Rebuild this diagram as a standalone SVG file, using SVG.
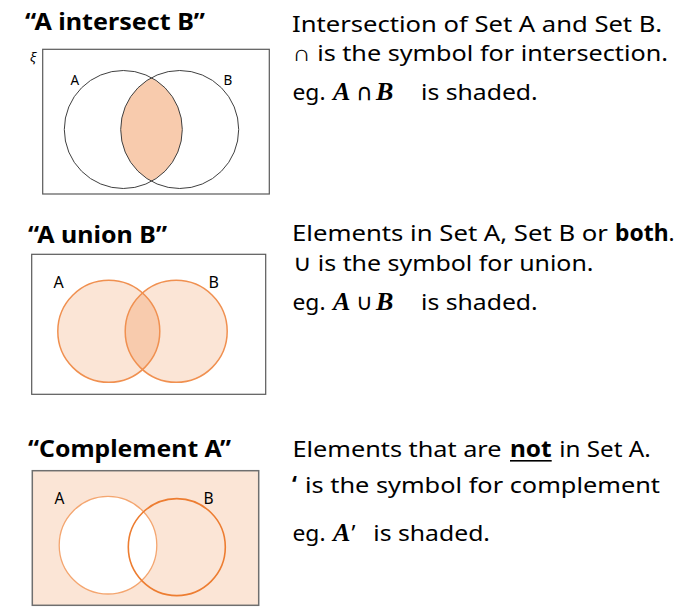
<svg xmlns="http://www.w3.org/2000/svg" width="697" height="613" viewBox="0 0 697 613">
<style>
  .title{font-family:"Noto Sans","Liberation Sans",sans-serif;font-weight:bold;font-size:23.5px;fill:#000}
  .body{font-family:"Noto Sans","Liberation Sans",sans-serif;font-size:22.5px;fill:#000}
  .bold{font-weight:bold}
  .math{font-family:"Liberation Serif","DejaVu Serif",serif;font-style:italic;font-weight:bold;font-size:26px;fill:#000}
  .sym{font-family:"DejaVu Sans","Noto Sans",sans-serif;font-size:23px;fill:#000}
  .lbl{font-family:"Noto Sans","Liberation Sans",sans-serif;fill:#000}
  .frame{fill:#fff;stroke:#595959;stroke-width:1.2}
  .orange{stroke:#F09050;stroke-width:1.5}
</style>
<rect width="697" height="613" fill="#fff"/>

<g id="panel-intersect">
  <text class="title" x="25" y="29.5" textLength="180" lengthAdjust="spacingAndGlyphs">“A intersect B”</text>
  <rect class="frame" x="42.7" y="49.3" width="226.6" height="144.7"/>
  <text class="lbl" x="30" y="62" font-size="13" font-style="italic" font-family="DejaVu Serif, serif">ξ</text>
  <path d="M151.5,77.7 A59,59 0 0,1 151.5,181.3 A59,59 0 0,1 151.5,77.7 Z" fill="#F8CBAD"/>
  <circle cx="123.3" cy="129.5" r="59" fill="none" stroke="#404040" stroke-width="1"/>
  <circle cx="179.7" cy="129.5" r="59" fill="none" stroke="#404040" stroke-width="1"/>
  <text class="lbl" x="70.5" y="85" font-size="13.5">A</text>
  <text class="lbl" x="223.5" y="85" font-size="13.5">B</text>
  <text class="body" x="292" y="31.5" textLength="370" lengthAdjust="spacingAndGlyphs">Intersection of Set A and Set B.</text>
  <text class="body" x="292.5" y="61" textLength="375.5" lengthAdjust="spacingAndGlyphs">∩ is the symbol for intersection.</text>
  <text class="body" x="292.5" y="100" textLength="33" lengthAdjust="spacingAndGlyphs">eg.</text>
  <text class="math" x="333" y="100">A</text>
  <text class="sym" x="356" y="100">∩</text>
  <text class="math" x="376" y="100">B</text>
  <text class="body" x="421" y="100" textLength="116.7" lengthAdjust="spacingAndGlyphs">is shaded.</text>
</g>

<g id="panel-union">
  <text class="title" x="28" y="243.3" textLength="139" lengthAdjust="spacingAndGlyphs">“A union B”</text>
  <rect class="frame" x="31.7" y="254.3" width="234" height="140" stroke="#404040"/>
  <circle cx="108.8" cy="331.3" r="51" fill="#FBE5D6"/>
  <circle cx="176.2" cy="331.3" r="51" fill="#FBE5D6"/>
  <path d="M142.5,293 A51,51 0 0,1 142.5,369.6 A51,51 0 0,1 142.5,293 Z" fill="#F8CBAD"/>
  <circle class="orange" cx="108.8" cy="331.3" r="51" fill="none"/>
  <circle class="orange" cx="176.2" cy="331.3" r="51" fill="none"/>
  <text class="lbl" x="53.5" y="288" font-size="16">A</text>
  <text class="lbl" x="208.5" y="288" font-size="16">B</text>
  <text class="body" x="292" y="241" textLength="316" lengthAdjust="spacingAndGlyphs">Elements in Set A, Set B or</text>
  <text class="body bold" x="615" y="241" textLength="53.5" lengthAdjust="spacingAndGlyphs">both</text>
  <text class="body" x="668.5" y="241">.</text>
  <text class="body" x="292.5" y="271" textLength="301" lengthAdjust="spacingAndGlyphs">∪ is the symbol for union.</text>
  <text class="body" x="292.5" y="310" textLength="33" lengthAdjust="spacingAndGlyphs">eg.</text>
  <text class="math" x="333" y="310">A</text>
  <text class="sym" x="356" y="310">∪</text>
  <text class="math" x="376" y="310">B</text>
  <text class="body" x="421" y="310" textLength="116.7" lengthAdjust="spacingAndGlyphs">is shaded.</text>
</g>

<g id="panel-complement">
  <text class="title" x="28" y="456.7" textLength="203" lengthAdjust="spacingAndGlyphs">“Complement A”</text>
  <rect x="32.3" y="470.7" width="226.4" height="134.6" fill="#FBE5D6" stroke="#6F6F6F" stroke-width="1.5"/>
  <circle cx="108" cy="545.2" r="48.8" fill="#fff"/>
  <circle cx="108" cy="545.2" r="48.8" fill="none" stroke="#F4A670" stroke-width="1.3"/>
  <circle cx="176.8" cy="547.1" r="48.5" fill="none" stroke="#ED7D31" stroke-width="1.6"/>
  <text class="lbl" x="54.5" y="503.5" font-size="15.5">A</text>
  <text class="lbl" x="203.5" y="503.5" font-size="15.5">B</text>
  <text class="body" x="292.5" y="456.7" textLength="209" lengthAdjust="spacingAndGlyphs">Elements that are</text>
  <text class="body bold" x="510" y="456.7" textLength="41.7" lengthAdjust="spacingAndGlyphs">not</text>
  <rect x="510" y="460" width="41.7" height="1.6" fill="#000"/>
  <text class="body" x="559.3" y="456.7" textLength="91.4" lengthAdjust="spacingAndGlyphs">in Set A.</text>
  <text class="body bold" x="292" y="493.3">‘</text>
  <text class="body" x="305" y="493.3" textLength="355" lengthAdjust="spacingAndGlyphs">is the symbol for complement</text>
  <text class="body" x="292.5" y="540.7" textLength="33" lengthAdjust="spacingAndGlyphs">eg.</text>
  <text class="math" x="333" y="540.7">A</text>
  <text class="body" x="351.5" y="540.7">’</text>
  <text class="body" x="373.3" y="540.7" textLength="116.7" lengthAdjust="spacingAndGlyphs">is shaded.</text>
</g>
</svg>
